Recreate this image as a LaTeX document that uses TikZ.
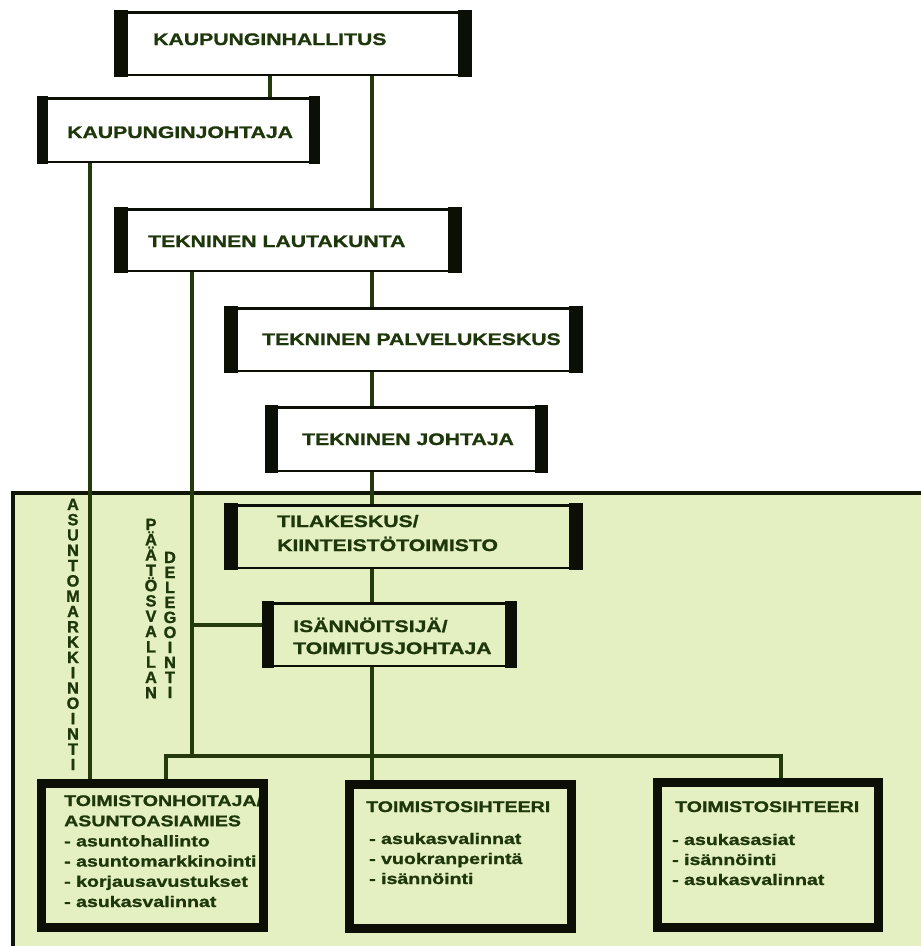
\documentclass[tikz,border=0pt]{standalone}
\usepackage{fontspec}
\setmainfont{Liberation Sans}[BoldFeatures={FakeBold=1.2}]
\newfontfamily\widefont{Liberation Sans}[FakeStretch=1.27, BoldFeatures={FakeBold=1.2}]
\usetikzlibrary{calc}

\definecolor{ink}{HTML}{1E370A}
\definecolor{wire}{HTML}{243A0C}
\definecolor{bar}{HTML}{0B0F06}
\definecolor{zone}{HTML}{E4F0C2}

\pgfdeclarelayer{zonelayer}
\pgfdeclarelayer{wirelayer}
\pgfsetlayers{zonelayer,wirelayer,main}

% rows of text with a fixed baseline pitch; the box baseline is the first row
\newcommand{\txtrows}[2]{\vtop{\baselineskip=#1\lineskiplimit=-\maxdimen\lineskip=0pt\halign{##\hfil\cr#2\crcr}}}
\newcommand{\letters}[2]{\vtop{\baselineskip=#1\lineskiplimit=-\maxdimen\lineskip=0pt\halign{\hfil##\hfil\cr#2\crcr}}}

\tikzset{
  x=1pt, y=-1pt,
  unitbox/.style={draw=bar, line width=2.5pt, fill=white, inner sep=0pt},
  zonebox/.style={unitbox, fill=zone},
  staffbox/.style={draw=bar, line width=9pt, inner sep=0pt},
  title/.style={inner sep=0pt, text=ink, font=\widefont\bfseries\fontsize{16.7}{24}\selectfont},
  duty/.style={inner sep=0pt, text=ink, font=\widefont\bfseries\fontsize{15.4}{20}\selectfont},
  vert/.style={inner sep=0pt, text=ink, font=\bfseries\fontsize{16.3}{15}\selectfont},
  link/.style={draw=wire, line width=4.5pt, line join=miter},
}

\begin{document}
\begin{tikzpicture}
\useasboundingbox (0,0) rectangle (921,946);

% upper organisation boxes
\node[unitbox, minimum width=353.5pt, minimum height=62.5pt] (hall) at (293,43.5) {};
\node[unitbox, minimum width=278.5pt, minimum height=63.5pt] (joht) at (178.5,130) {};
\node[unitbox, minimum width=343.5pt, minimum height=61.5pt] (lauta) at (288,240) {};
\node[unitbox, minimum width=354.5pt, minimum height=62.5pt] (palv) at (403.5,339.5) {};
\node[unitbox, minimum width=278.5pt, minimum height=63.5pt] (tjoht) at (406.5,439) {};

% shaded local office area
\begin{pgfonlayer}{zonelayer}
  \fill[zone] (13,493) rectangle (930,955);
  \draw[draw=bar!85!wire, line width=4pt] (13,955) -- (13,493) -- (930,493);
\end{pgfonlayer}

\node[zonebox, minimum width=354.5pt, minimum height=62.5pt] (tila) at (403.5,536.5) {};
\node[zonebox, minimum width=250.5pt, minimum height=62.5pt] (isann) at (389.5,634.5) {};

% thick side bars of the unit boxes
\foreach \b/\w in {hall/13, joht/10, lauta/13, palv/13, tjoht/12, tila/13, isann/11}{
  \fill[bar] ([xshift=-1.25pt,yshift=1.25pt]\b.north west) rectangle ([xshift=\w pt,yshift=-1.25pt]\b.south west);
  \fill[bar] ([xshift=1.25pt,yshift=1.25pt]\b.north east) rectangle ([xshift=-\w pt,yshift=-1.25pt]\b.south east);
}

% unit titles
\node[title, anchor=base west] (thall) at (153,45) {KAUPUNGINHALLITUS};
\node[title, anchor=base west] (tjohtaja) at (67,138) {KAUPUNGINJOHTAJA};
\node[title, anchor=base west] (tlauta) at (148,247) {TEKNINEN LAUTAKUNTA};
\node[title, anchor=base west] (tpalv) at (262,345) {TEKNINEN PALVELUKESKUS};
\node[title, anchor=base west] (ttjoht) at (302,445) {TEKNINEN JOHTAJA};
\node[title, anchor=base west] (ttila) at (277,527) {\txtrows{24pt}{TILAKESKUS/\cr KIINTEISTÖTOIMISTO}};
\node[title, anchor=base west] (tisann) at (293,632) {\txtrows{22pt}{ISÄNNÖITSIJÄ/\cr TOIMITUSJOHTAJA}};

% staff boxes and their duties
\node[duty, anchor=base west] (dhoit) at (64,806)
  {\txtrows{20.2pt}{TOIMISTONHOITAJA/\cr ASUNTOASIAMIES\cr - asuntohallinto\cr - asuntomarkkinointi\cr - korjausavustukset\cr - asukasvalinnat}};
\node[duty, anchor=base west] (tsihA) at (366,812) {TOIMISTOSIHTEERI};
\node[duty, anchor=base west] (dsihA) at (369,844)
  {\txtrows{20pt}{- asukasvalinnat\cr - vuokranperintä\cr - isännöinti}};
\node[duty, anchor=base west] (tsihB) at (675,812) {TOIMISTOSIHTEERI};
\node[duty, anchor=base west] (dsihB) at (672,845)
  {\txtrows{20pt}{- asukasasiat\cr - isännöinti\cr - asukasvalinnat}};

\node[staffbox, minimum width=222pt, minimum height=144pt] (hoit) at (152.5,855.5) {};
\node[staffbox, minimum width=222pt, minimum height=144pt] (sihA) at (460.5,856.5) {};
\node[staffbox, minimum width=221pt, minimum height=145pt] (sihB) at (768,855) {};

% vertical labels along the reporting lines
\node[vert, anchor=base] (vmark) at (73,510)
  {\letters{15.3pt}{A\cr S\cr U\cr N\cr T\cr O\cr M\cr A\cr R\cr K\cr K\cr I\cr N\cr O\cr I\cr N\cr T\cr I}};
\node[vert, anchor=base] (vpaat) at (151,530)
  {\letters{15.3pt}{P\cr Ä\cr Ä\cr T\cr Ö\cr S\cr V\cr A\cr L\cr L\cr A\cr N}};
\node[vert, anchor=base] (vdele) at (170,563)
  {\letters{15pt}{D\cr E\cr L\cr E\cr G\cr O\cr I\cr N\cr T\cr I}};

% connectors
\coordinate (xa) at (270,0);
\coordinate (xb) at (372,0);
\coordinate (xc) at (90,0);
\coordinate (xd) at (192,0);
\coordinate (xe) at (166,0);
\coordinate (xf) at (781,0);
\coordinate (bus) at (0,756);
\coordinate (tap) at (192,625);

\begin{pgfonlayer}{wirelayer}
  \draw[link] (hall.south -| xa) -- (joht.north -| xa);
  \draw[link] (hall.south -| xb) -- (lauta.north -| xb);
  \draw[link] (lauta.south -| xb) -- (palv.north -| xb);
  \draw[link] (palv.south -| xb) -- (tjoht.north -| xb);
  \draw[link] (tjoht.south -| xb) -- (tila.north -| xb);
  \draw[link] (tila.south -| xb) -- (isann.north -| xb);
  \draw[link] (isann.south -| xb) -- (sihA.north -| xb);
  \draw[link] (joht.south -| xc) -- (hoit.north -| xc);
  \draw[link] (lauta.south -| xd) -- ([yshift=-2pt]bus -| xd);
  \draw[link] (tap) -- (tap -| isann.west);
  \draw[link] (hoit.north -| xe) |- (bus -| xf) -- (sihB.north -| xf);
\end{pgfonlayer}
\end{tikzpicture}
\end{document}
